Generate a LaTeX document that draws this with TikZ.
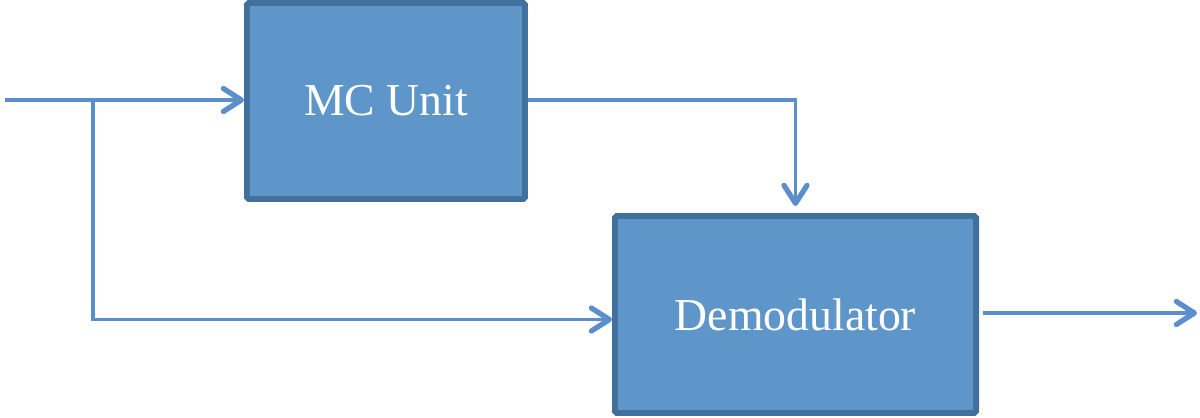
\documentclass[tikz,border=0pt]{standalone}
\usepackage{fontspec}
\setmainfont{Liberation Serif}
\usetikzlibrary{arrows.meta,positioning}
\definecolor{boxfill}{HTML}{5F96CA}
\definecolor{boxedge}{HTML}{42709C}
\definecolor{wire}{HTML}{5B8FCB}
\begin{document}
\begin{tikzpicture}[
    block/.style={draw=boxedge, fill=boxfill, line width=3.4pt, rounded corners=1pt,
                  text=white, font=\fontsize{26}{30}\selectfont, inner sep=0pt},
    wireline/.style={draw=wire, line width=2.1pt},
    >={Straight Barb[length=3.6mm, width=4.6mm, line width=3pt, round]}
  ]
      \useasboundingbox (0,0) rectangle (24,8.34);

      % Blocks
      \node[block, minimum width=5.56cm, minimum height=3.92cm] (mc) at (7.72,6.32) {MC Unit};
      \node[block, minimum width=7.22cm, minimum height=3.94cm] (demod) at (15.91,2.05) {Demodulator};

      % Input and branch point
      \coordinate (in) at (0.1,6.34);
      \coordinate (split) at (1.86,6.34);
      \coordinate (out) at (23.94,2.08);

      \draw[wireline, ->] (in) -- (mc.west |- in);
      \draw[wireline, ->] (split) |- ([yshift=-0.1cm]demod.west);

      % MC Unit to Demodulator
      \draw[wireline, ->, shorten >=0.14cm] (mc.east |- in) -| (demod.north);

      % Output
      \draw[wireline, ->, shorten <=0.08cm] (demod.east |- out) -- (out);
\end{tikzpicture}
\end{document}
